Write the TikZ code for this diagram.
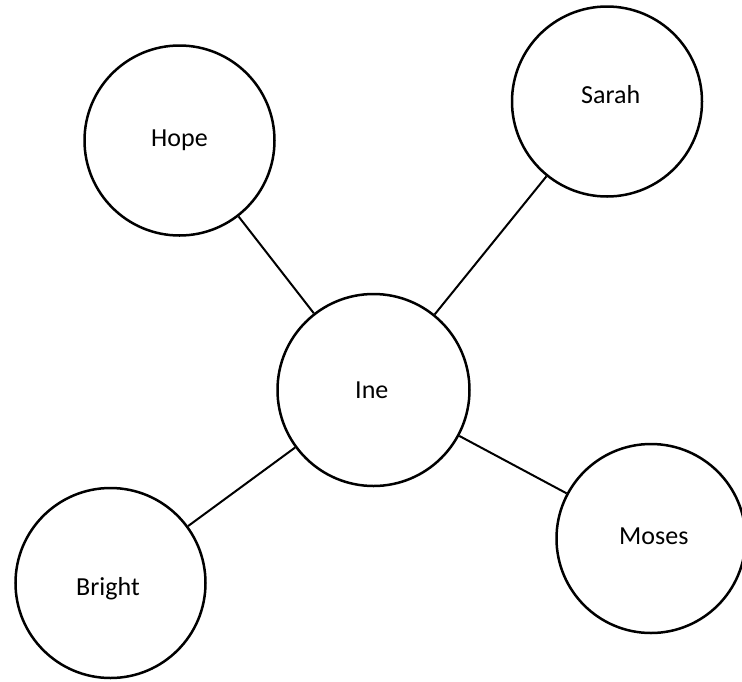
\documentclass[tikz,border=0pt]{standalone}
\usepackage{fontspec}
\setmainfont{Carlito}
\begin{document}
\begin{tikzpicture}[x=1pt,y=-1pt,
  circ/.style={draw=black, line width=2.5pt, circle, inner sep=0pt, fill=white},
  link/.style={draw=black, line width=2pt},
  txt/.style={font=\fontsize{26}{30}\selectfont, inner sep=0pt, text=black}]
\useasboundingbox[fill=white] (0,0) rectangle (742,681);
\node[circ, minimum size=190] (hope) at (179.5,140.5) {};
\node[circ, minimum size=190] (sarah) at (607,101.5) {};
\node[circ, minimum size=192] (ine) at (373.5,390) {};
\node[circ, minimum size=189] (moses) at (651,538.5) {};
\node[circ, minimum size=190] (bright) at (110.5,583) {};
\draw[link] (hope) -- (ine);
\draw[link] (sarah) -- (ine);
\draw[link] (ine) -- (moses);
\draw[link] (ine) -- (bright);
\node[txt, anchor=base west] (hopet) at (151,146) {Hope};
\node[txt, anchor=base west] (saraht) at (581,103.5) {Sarah};
\node[txt, anchor=base west] (inet) at (355,398) {Ine};
\node[txt, anchor=base west] (mosest) at (619,544) {Moses};
\node[txt, anchor=base west] (brightt) at (76,595) {Bright};
\end{tikzpicture}
\end{document}
